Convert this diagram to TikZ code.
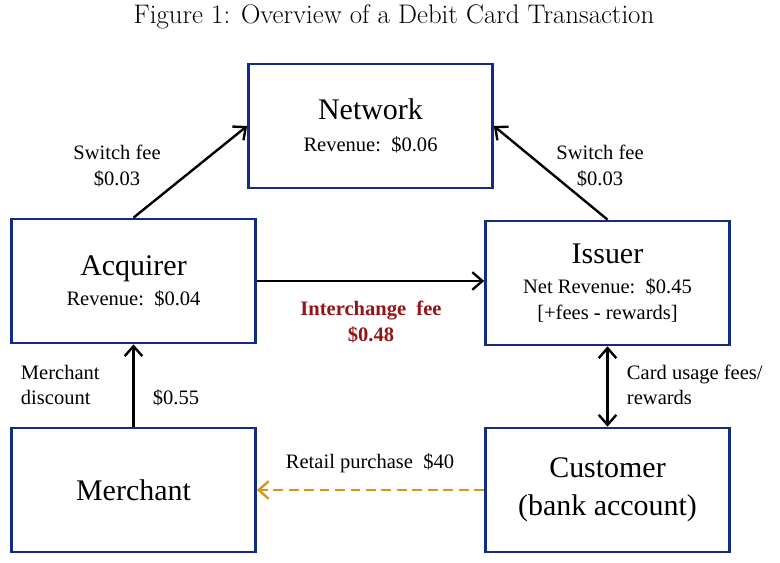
\documentclass[tikz,border=0pt]{standalone}
\usepackage{fontspec}
\newfontfamily\boxfont{Liberation Serif}
\usetikzlibrary{arrows.meta}
\definecolor{boxblue}{RGB}{18,44,134}
\definecolor{feered}{RGB}{150,20,24}
\definecolor{retailgold}{RGB}{212,152,24}
\tikzset{
  party/.style={draw=boxblue, line width=1.9pt, minimum width=6.1cm, minimum height=3.1cm,
    align=center, font=\boxfont\fontsize{14.6}{18.5}\selectfont},
  flow/.style={line width=1.7pt, -{Straight Barb[length=2.5mm,width=4.4mm,line width=1.7pt]}},
  tag/.style={align=center, font=\boxfont\fontsize{14.6}{18}\selectfont}
}
\newcommand{\partyname}[1]{{\fontsize{21.3}{25}\selectfont #1}}
\begin{document}
\begin{tikzpicture}[x=0.025cm, y=-0.025cm]
\useasboundingbox (0,0) rectangle (780,563);
\node (title) at (394,17) {\fontsize{19.1}{22}\selectfont Figure 1: Overview of a Debit Card Transaction};

\node (network) [party] at (370.5,126) {\partyname{Network}\\[4pt] Revenue:\ \ \$0.06};
\node (acquirer) [party] at (133.5,281) {\partyname{Acquirer}\\[3pt] Revenue:\ \ \$0.04};
\node (issuer) [party] at (607.5,283) {\partyname{Issuer}\\[3pt] Net Revenue:\ \ \$0.45\\ {[+fees - rewards]}};
\node (merchant) [party] at (133.5,490) {\partyname{Merchant}};
\node (customer) [party, font=\boxfont\fontsize{21.3}{27}\selectfont] at (607.5,490) {Customer\\(bank account)};

\draw [flow] (acquirer.north) -- (network.west);
\draw [flow] (issuer.north) -- (network.east);
\draw [flow] (acquirer.east) -- (acquirer.east -| issuer.west);
\draw [flow] (merchant.north) -- (acquirer.south);
\draw [flow, {Straight Barb[length=2.5mm,width=4.4mm,line width=1.7pt]}-{Straight Barb[length=2.5mm,width=4.4mm,line width=1.7pt]}] (issuer.south) -- (customer.north);
\draw [flow, color=retailgold, dashed, dash pattern=on 7pt off 4pt] (customer.west) -- (merchant.east);

\node (switchleft) [tag] at (117,166) {Switch fee\\\$0.03};
\node (switchright) [tag] at (600,166) {Switch fee\\\$0.03};
\node (interchange) [tag, text=feered, font=\boxfont\bfseries\fontsize{14.6}{18}\selectfont] at (371,322) {Interchange\ \ fee\\\$0.48};
\node (discount) [tag, align=left, anchor=west] at (16,385) {Merchant\\discount};
\node (discountval) [tag] at (176,398) {\$0.55};
\node (cardusage) [tag, align=left, anchor=west] at (622,385) {Card usage fees/\\rewards};
\node (retail) [tag] at (370,463) {Retail purchase\ \ \$40};
\end{tikzpicture}
\end{document}
